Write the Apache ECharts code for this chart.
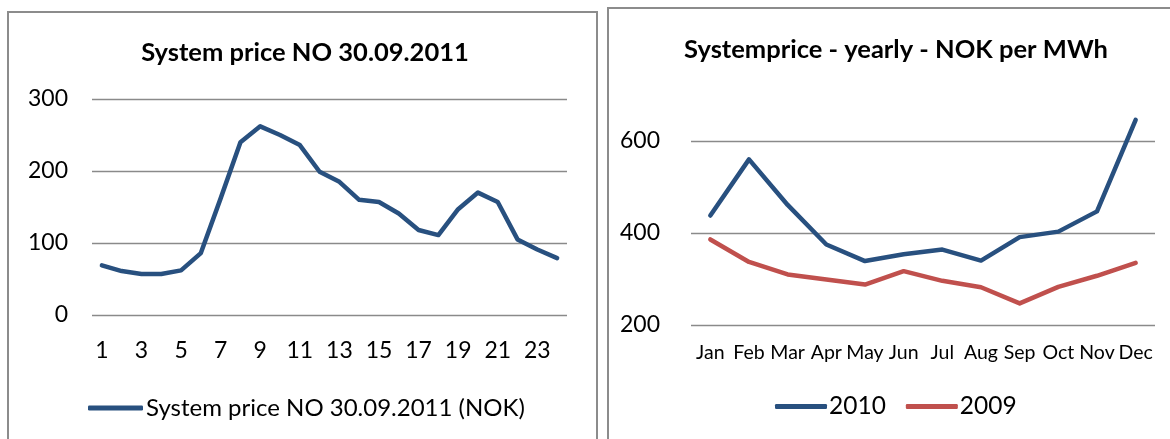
<!DOCTYPE html>
<html><head><meta charset="utf-8">
<script src="https://cdn.jsdelivr.net/npm/echarts@6/dist/echarts.min.js"></script>
<style>html,body{margin:0;padding:0;background:#fff}#c{width:1170px;height:439px}</style>
</head><body><div id="c"></div>
<script>
const hours = ['1','2','3','4','5','6','7','8','9','10','11','12','13','14','15','16','17','18','19','20','21','22','23','24'];
const dailyPrice = [69,61,57,57,62,86,162,240,262,250,236,199,185,160,157,141,118,111,147,170,157,105,91,79];
const months = ['Jan','Feb','Mar','Apr','May','Jun','Jul','Aug','Sep','Oct','Nov','Dec'];
const price2010 = [438,560,461,375,339,354,364,340,391,403,447,646];
const price2009 = [386,337,310,299,288,317,296,282,247,283,307,335];
const leftTicks = [0,100,200,300];
const rightTicks = [200,400,600];

const FONT = 'Lato';
const BLUE = '#28507f';
const RED = '#c0504d';
const GRID = '#8a8a8a';

const chart = echarts.init(document.getElementById('c'), null, {renderer:'canvas'});
chart.setOption({
  backgroundColor:'#ffffff',
  animation:false,
  textStyle:{fontFamily:FONT},
  graphic:[
    {type:'rect', shape:{x:8,y:12,width:589,height:440}, style:{fill:'none',stroke:'#8c8c8c',lineWidth:2}, silent:true},
    {type:'rect', shape:{x:608,y:8,width:580,height:440}, style:{fill:'none',stroke:'#8c8c8c',lineWidth:2}, silent:true}
  ],
  title:[
    {text:'System price NO 30.09.2011', left:300, top:35, textAlign:'center',
     textStyle:{fontFamily:FONT,fontSize:25.5,fontWeight:'bold',color:'#000'}},
    {text:'Systemprice - yearly - NOK per MWh', left:891, top:32, textAlign:'center',
     textStyle:{fontFamily:FONT,fontSize:25.5,fontWeight:'bold',color:'#000'}}
  ],
  legend:[
    {data:['System price NO 30.09.2011 (NOK)'], left:88, top:396, padding:0, icon:'roundRect',
     itemWidth:55, itemHeight:5, itemGap:10,
     textStyle:{fontFamily:FONT,fontSize:24,color:'#000',padding:[0,0,0,-2]}},
    {data:['2010','2009'], left:775, top:394, padding:0, icon:'roundRect',
     itemWidth:52, itemHeight:5, itemGap:20,
     textStyle:{fontFamily:FONT,fontSize:24.5,color:'#000',padding:[0,0,0,-3]}}
  ],
  grid:[
    {left:92, right:603, top:99, bottom:124},
    {left:691, right:15, top:95, bottom:114}
  ],
  xAxis:[
    {type:'category', gridIndex:0, data:hours, boundaryGap:true,
     axisLine:{show:false}, axisTick:{show:false},
     axisLabel:{interval:1, margin:24, fontFamily:FONT, fontSize:23, color:'#000'}},
    {type:'category', gridIndex:1, data:months, boundaryGap:true,
     axisLine:{show:false}, axisTick:{show:false},
     axisLabel:{interval:0, margin:18, fontFamily:FONT, fontSize:19.5, color:'#000'}}
  ],
  yAxis:[
    {type:'value', gridIndex:0, min:leftTicks[0], max:leftTicks[leftTicks.length-1], interval:100,
     axisLine:{show:false}, axisTick:{show:false},
     axisLabel:{margin:24, fontFamily:FONT, fontSize:23, color:'#000'},
     splitLine:{lineStyle:{color:GRID,width:1.3}}},
    {type:'value', gridIndex:1, min:rightTicks[0], max:700, interval:200,
     axisLine:{show:false}, axisTick:{show:false},
     axisLabel:{margin:31, fontFamily:FONT, fontSize:23, color:'#000', showMaxLabel:false},
     splitLine:{showMaxLine:false, lineStyle:{color:GRID,width:1.3}}}
  ],
  series:[
    {name:'System price NO 30.09.2011 (NOK)', type:'line', xAxisIndex:0, yAxisIndex:0,
     data:dailyPrice, symbol:'none', color:BLUE, lineStyle:{width:4.5,color:BLUE,cap:'round',join:'round'}},
    {name:'2010', type:'line', xAxisIndex:1, yAxisIndex:1,
     data:price2010, symbol:'none', color:BLUE, lineStyle:{width:4.5,color:BLUE,cap:'round',join:'round'}},
    {name:'2009', type:'line', xAxisIndex:1, yAxisIndex:1,
     data:price2009, symbol:'none', color:RED, lineStyle:{width:4.5,color:RED,cap:'round',join:'round'}}
  ]
});
</script></body></html>
